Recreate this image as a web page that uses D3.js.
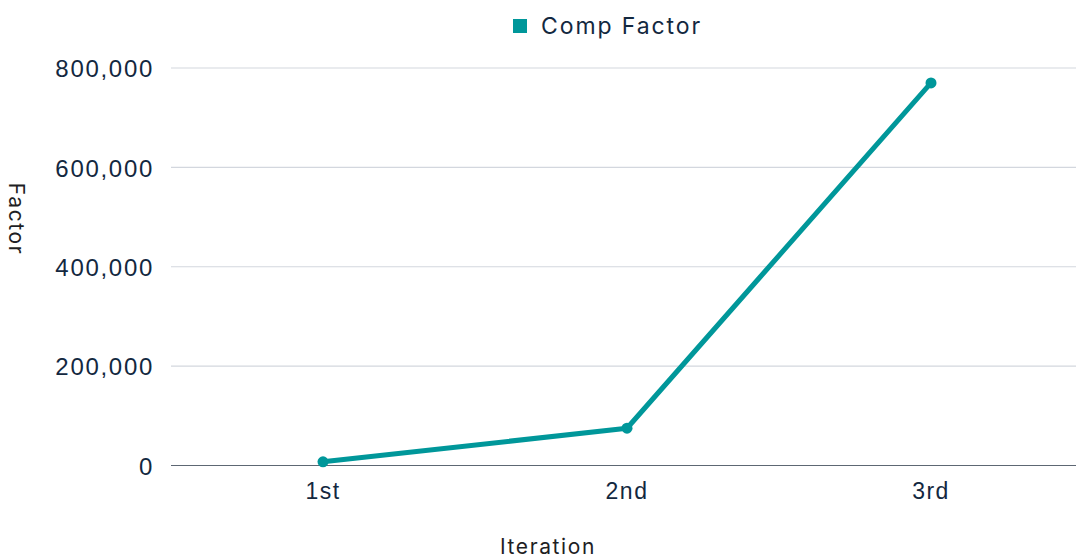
<!DOCTYPE html>
<html>
<head>
<meta charset="utf-8">
<script src="https://cdn.jsdelivr.net/npm/d3@7"></script>
<style>
  html, body { margin: 0; padding: 0; background: #ffffff; }
  svg { display: block; font-family: Inter, "Open Sans", sans-serif; }
</style>
</head>
<body>
<svg id="chart" width="1076" height="559"></svg>
<script>
// Compensation factor per iteration
const categories = ["1st", "2nd", "3rd"];
const seriesName = "Comp Factor";
const compFactor = [7500, 75000, 770000];
const yTicks = [0, 200000, 400000, 600000, 800000];

const W = 1076, H = 559;
const plot = { left: 171, right: 1083, top: 68, bottom: 465.5 };
const teal = "#00979a";
const ink = "#13283f";

const svg = d3.select("#chart");

const x = d3.scaleBand().domain(categories).range([plot.left, plot.right]);
const y = d3.scaleLinear().domain([0, 800000]).range([plot.bottom, plot.top]);

// horizontal grid lines
svg.append("g")
  .selectAll("line")
  .data(yTicks.filter(d => d !== 0))
  .join("line")
  .attr("x1", plot.left).attr("x2", W)
  .attr("y1", d => y(d)).attr("y2", d => y(d))
  .attr("stroke", "#d3d7de").attr("stroke-width", 1.2);

// baseline
svg.append("line")
  .attr("x1", plot.left).attr("x2", W)
  .attr("y1", y(0)).attr("y2", y(0))
  .attr("stroke", "#5d6773").attr("stroke-width", 1.2);

// y axis labels
const yAxis = d3.axisLeft(y).tickValues(yTicks).tickSize(0).tickPadding(0)
  .tickFormat(d3.format(","));
svg.append("g")
  .attr("transform", `translate(${plot.left - 17},0)`)
  .call(yAxis)
  .call(g => g.select(".domain").remove())
  .call(g => g.selectAll("text")
    .attr("fill", ink).attr("font-size", 24).attr("font-weight", 400)
    .attr("letter-spacing", 1.7)
    .attr("dy", "0.36em"));

// x axis labels
const xAxis = d3.axisBottom(x).tickSize(0).tickPadding(0);
svg.append("g")
  .attr("transform", `translate(0,${plot.bottom + 17})`)
  .call(xAxis)
  .call(g => g.select(".domain").remove())
  .call(g => g.selectAll("text")
    .attr("fill", ink).attr("font-size", 23).attr("font-weight", 400)
    .attr("letter-spacing", 1.5)
    .attr("dy", "0.71em"));

// the series line
const line = d3.line()
  .x((d, i) => x(categories[i]) + x.bandwidth() / 2)
  .y(d => y(d));

svg.append("path")
  .datum(compFactor)
  .attr("d", line)
  .attr("fill", "none")
  .attr("stroke", teal)
  .attr("stroke-width", 5)
  .attr("stroke-linejoin", "round");

svg.append("g")
  .selectAll("circle")
  .data(compFactor)
  .join("circle")
  .attr("cx", (d, i) => x(categories[i]) + x.bandwidth() / 2)
  .attr("cy", d => y(d))
  .attr("r", 5.5)
  .attr("fill", teal);

// legend
const legend = svg.append("g").attr("transform", "translate(513,19)");
legend.append("rect").attr("width", 14).attr("height", 14).attr("fill", teal);
legend.append("text")
  .attr("x", 28).attr("y", 7).attr("dy", "0.36em")
  .attr("fill", ink).attr("font-size", 23).attr("letter-spacing", 1.9)
  .text(seriesName);

// axis titles
svg.append("text")
  .attr("x", 548).attr("y", 546).attr("dy", "0.36em")
  .attr("text-anchor", "middle")
  .attr("fill", "#1e1e24").attr("font-size", 21).attr("font-weight", 400)
  .attr("letter-spacing", 1.6)
  .text("Iteration");

svg.append("text")
  .attr("transform", "translate(17,219) rotate(90)")
  .attr("text-anchor", "middle").attr("dy", "0.36em")
  .attr("fill", "#1e1e24").attr("font-size", 21).attr("font-weight", 400)
  .attr("letter-spacing", 1.6)
  .text("Factor");
</script>
</body>
</html>
